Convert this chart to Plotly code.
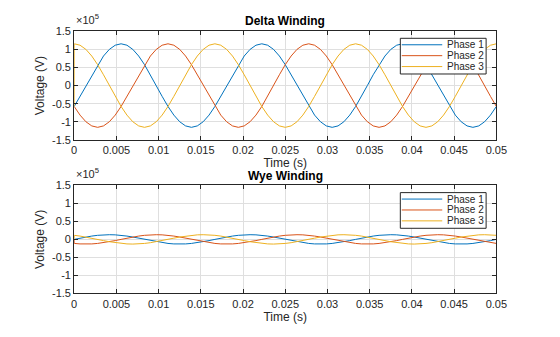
import plotly.graph_objects as go

# ---------------- data ----------------
time_s = [
    0, 0.00001,
    0.000694, 0.001389, 0.002083, 0.002778, 0.003472, 0.004167, 0.004861, 0.005556, 0.00625, 0.006944, 0.007639, 0.008333,
    0.009028, 0.009722, 0.010417, 0.011111, 0.011806, 0.0125, 0.013194, 0.013889, 0.014583, 0.015278, 0.015972, 0.016667,
    0.017361, 0.018056, 0.01875, 0.019444, 0.020139, 0.020833, 0.021528, 0.022222, 0.022917, 0.023611, 0.024306, 0.025,
    0.025694, 0.026389, 0.027083, 0.027778, 0.028472, 0.029167, 0.029861, 0.030556, 0.03125, 0.031944, 0.032639, 0.033333,
    0.034028, 0.034722, 0.035417, 0.036111, 0.036806, 0.0375, 0.038194, 0.038889, 0.039583, 0.040278, 0.040972, 0.041667,
    0.042361, 0.043056, 0.04375, 0.044444, 0.045139, 0.045833, 0.046528, 0.047222, 0.047917, 0.048611, 0.049306, 0.05,
]

delta_phase1 = [
    -57500,
    -57500, -29764, 0, 29764, 57500, 81317, 99593, 111081, 115000, 111081, 99593, 81317,
    57500, 29764, 0, -29764, -57500, -81317, -99593, -111081, -115000, -111081, -99593, -81317,
    -57500, -29764, 0, 29764, 57500, 81317, 99593, 111081, 115000, 111081, 99593, 81317,
    57500, 29764, 0, -29764, -57500, -81317, -99593, -111081, -115000, -111081, -99593, -81317,
    -57500, -29764, 0, 29764, 57500, 81317, 99593, 111081, 115000, 111081, 99593, 81317,
    57500, 29764, 0, -29764, -57500, -81317, -99593, -111081, -115000, -111081, -99593, -81317,
    -57500,
]
delta_phase2 = [
    -57500,
    -57500, -81317, -99593, -111081, -115000, -111081, -99593, -81317, -57500, -29764, 0, 29764,
    57500, 81317, 99593, 111081, 115000, 111081, 99593, 81317, 57500, 29764, 0, -29764,
    -57500, -81317, -99593, -111081, -115000, -111081, -99593, -81317, -57500, -29764, 0, 29764,
    57500, 81317, 99593, 111081, 115000, 111081, 99593, 81317, 57500, 29764, 0, -29764,
    -57500, -81317, -99593, -111081, -115000, -111081, -99593, -81317, -57500, -29764, 0, 29764,
    57500, 81317, 99593, 111081, 115000, 111081, 99593, 81317, 57500, 29764, 0, -29764,
    -57500,
]
delta_phase3 = [
    -57500,
    115000, 111081, 99593, 81317, 57500, 29764, 0, -29764, -57500, -81317, -99593, -111081,
    -115000, -111081, -99593, -81317, -57500, -29764, 0, 29764, 57500, 81317, 99593, 111081,
    115000, 111081, 99593, 81317, 57500, 29764, 0, -29764, -57500, -81317, -99593, -111081,
    -115000, -111081, -99593, -81317, -57500, -29764, 0, 29764, 57500, 81317, 99593, 111081,
    115000, 111081, 99593, 81317, 57500, 29764, 0, -29764, -57500, -81317, -99593, -111081,
    -115000, -111081, -99593, -81317, -57500, -29764, 0, 29764, 57500, 81317, 99593, 111081,
    115000,
]

wye_phase1 = [
    0,
    0, 3365, 6500, 9192, 11258, 12557, 13000, 12557, 11258, 9192, 6500, 3365,
    0, -3365, -6500, -9192, -11258, -12557, -13000, -12557, -11258, -9192, -6500, -3365,
    0, 3365, 6500, 9192, 11258, 12557, 13000, 12557, 11258, 9192, 6500, 3365,
    0, -3365, -6500, -9192, -11258, -12557, -13000, -12557, -11258, -9192, -6500, -3365,
    0, 3365, 6500, 9192, 11258, 12557, 13000, 12557, 11258, 9192, 6500, 3365,
    0, -3365, -6500, -9192, -11258, -12557, -13000, -12557, -11258, -9192, -6500, -3365,
    0,
]
wye_phase2 = [
    0,
    -11258, -12557, -13000, -12557, -11258, -9192, -6500, -3365, 0, 3365, 6500, 9192,
    11258, 12557, 13000, 12557, 11258, 9192, 6500, 3365, 0, -3365, -6500, -9192,
    -11258, -12557, -13000, -12557, -11258, -9192, -6500, -3365, 0, 3365, 6500, 9192,
    11258, 12557, 13000, 12557, 11258, 9192, 6500, 3365, 0, -3365, -6500, -9192,
    -11258, -12557, -13000, -12557, -11258, -9192, -6500, -3365, 0, 3365, 6500, 9192,
    11258, 12557, 13000, 12557, 11258, 9192, 6500, 3365, 0, -3365, -6500, -9192,
    -11258,
]
wye_phase3 = [
    0,
    11258, 9192, 6500, 3365, 0, -3365, -6500, -9192, -11258, -12557, -13000, -12557,
    -11258, -9192, -6500, -3365, 0, 3365, 6500, 9192, 11258, 12557, 13000, 12557,
    11258, 9192, 6500, 3365, 0, -3365, -6500, -9192, -11258, -12557, -13000, -12557,
    -11258, -9192, -6500, -3365, 0, 3365, 6500, 9192, 11258, 12557, 13000, 12557,
    11258, 9192, 6500, 3365, 0, -3365, -6500, -9192, -11258, -12557, -13000, -12557,
    -11258, -9192, -6500, -3365, 0, 3365, 6500, 9192, 11258, 12557, 13000, 12557,
    11258,
]

phase_names = ["Phase 1", "Phase 2", "Phase 3"]
panel_titles = ["Delta Winding", "Wye Winding"]
x_tick_vals = [0, 0.005, 0.01, 0.015, 0.02, 0.025, 0.03, 0.035, 0.04, 0.045, 0.05]
x_tick_text = ["0", "0.005", "0.01", "0.015", "0.02", "0.025", "0.03", "0.035", "0.04", "0.045", "0.05"]
y_tick_vals = [-150000, -100000, -50000, 0, 50000, 100000, 150000]
y_tick_text = ["-1.5", "-1", "-0.5", "0", "0.5", "1", "1.5"]
x_label = "Time (s)"
y_label = "Voltage (V)"
exponent_label = "×10<sup>5</sup>"

# ---------------- styling ----------------
W, H = 560, 337
colors = ["#0072BD", "#D95319", "#EDB120"]
FONT = "Liberation Sans, Arial, Helvetica, sans-serif"
AX = "#262626"
GRID = "#dfdfdf"

def px(x):
    return x / W

def py(y):
    return 1 - y / H

# axes boxes in pixels (left, right, top, bottom)
boxes = [(73, 506, 26, 139), (73, 506, 186, 298)]

fig = go.Figure()
panels = [(delta_phase1, delta_phase2, delta_phase3), (wye_phase1, wye_phase2, wye_phase3)]
for i, series_set in enumerate(panels):
    xa = "x" if i == 0 else "x2"
    ya = "y" if i == 0 else "y2"
    for series, name, color in zip(series_set, phase_names, colors):
        fig.add_trace(go.Scatter(x=time_s, y=series, mode="lines", name=name,
                                 line=dict(color=color, width=1),
                                 xaxis=xa, yaxis=ya, showlegend=False,
                                 hoverinfo="skip"))

axis_common = dict(showline=True, linecolor=AX, linewidth=1, mirror="ticks",
                   ticks="inside", ticklen=4, tickcolor=AX, tickwidth=1,
                   showgrid=True, gridcolor=GRID, gridwidth=1, zeroline=False,
                   tickfont=dict(family=FONT, size=11, color=AX))

layout = dict(width=W, height=H, margin=dict(l=0, r=0, t=0, b=0),
              paper_bgcolor="white", plot_bgcolor="white", showlegend=False,
              font=dict(family=FONT, color=AX))

shapes = []
annotations = []
for i, (l, r, t, b) in enumerate(boxes):
    sx = "" if i == 0 else "2"
    layout["xaxis" + sx] = dict(axis_common, domain=[px(l), px(r)], range=[0, 0.05],
                                anchor="y" + sx, tickvals=x_tick_vals, ticktext=x_tick_text,
                                title=dict(text=x_label, font=dict(family=FONT, size=12, color=AX), standoff=3))
    layout["yaxis" + sx] = dict(axis_common, domain=[py(b), py(t)], range=[-150000, 150000],
                                anchor="x" + sx, tickvals=y_tick_vals, ticktext=y_tick_text,
                                title=dict(text=y_label, font=dict(family=FONT, size=12, color=AX), standoff=4))
    # title
    annotations.append(dict(text="<b>" + panel_titles[i] + "</b>", x=px((l + r) / 2), y=py(t - 10),
                            xref="paper", yref="paper", showarrow=False, xanchor="center", yanchor="middle",
                            font=dict(family=FONT, size=12, color="#000000")))
    # exponent
    annotations.append(dict(text=exponent_label, x=px(l), y=py(t - 3), xref="paper", yref="paper",
                            showarrow=False, xanchor="left", yanchor="bottom",
                            font=dict(family=FONT, size=11, color=AX)))
    # legend box
    lx0, lx1 = 407.5, 495.5
    ly0 = t + 7.5
    ly1 = ly0 + 37
    shapes.append(dict(type="rect", xref="paper", yref="paper", x0=px(lx0), x1=px(lx1),
                       y0=py(ly1), y1=py(ly0), fillcolor="white", line=dict(color=AX, width=1),
                       layer="above"))
    for j, (name, color) in enumerate(zip(phase_names, colors)):
        ry = ly0 + 6.7 + j * 11.3
        shapes.append(dict(type="line", xref="paper", yref="paper", x0=px(409), x1=px(450.5),
                           y0=py(ry), y1=py(ry), line=dict(color=color, width=1), layer="above"))
        annotations.append(dict(text=name, x=px(453), y=py(ry), xref="paper", yref="paper",
                                showarrow=False, xanchor="left", yanchor="middle",
                                font=dict(family=FONT, size=10, color=AX)))

layout["shapes"] = shapes
layout["annotations"] = annotations
fig.update_layout(**layout)
fig.write_html("out.html",
               post_script="document.body.style.margin='0';document.body.style.overflow='hidden';")
